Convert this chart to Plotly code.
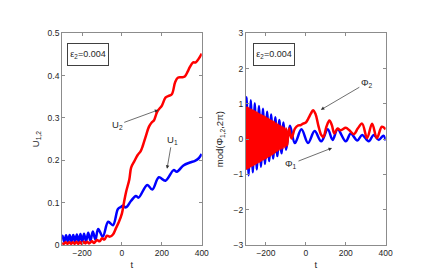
import plotly.graph_objects as go

# ---------- Left panel data: U1 (blue), U2 (red) ----------
u1_t = [-300, -298, -289, -280, -271, -262, -253, -244, -235, -226, -217, -208, -199, -190, -180,
        -169, -158, -146, -133, -119, -96, -69, -45, -20, -5, 4, 20, 45, 70, 83, 127, 152,
        185, 218, 259, 275, 308, 341, 366, 385, 400]
u1_v = [0.015, 0.022, 0.008, 0.023, 0.008, 0.024, 0.008, 0.024, 0.008, 0.025, 0.008, 0.026, 0.008, 0.027, 0.009,
        0.029, 0.010, 0.032, 0.013, 0.038, 0.020, 0.055, 0.047, 0.085, 0.090, 0.093, 0.089, 0.104, 0.116, 0.112, 0.142, 0.131,
        0.160, 0.152, 0.177, 0.173, 0.188, 0.195, 0.199, 0.205, 0.215]

u2_t = [-300, -291, -282, -273, -264, -255, -246, -237, -228, -219, -210, -201, -192, -183, -174, -165,
        -150, -140, -125, -112, -100, -88, -75, -60, -45, -30, -15, 0, 10, 21, 37, 46, 61, 78, 94,
        105, 119, 135, 150, 160, 177, 201, 218, 234, 250, 267, 280, 300, 315, 330, 340, 357, 370, 385, 400]
u2_v = [0.005, 0.003, 0.007, 0.003, 0.007, 0.003, 0.007, 0.003, 0.008, 0.003, 0.008, 0.003, 0.008, 0.004, 0.008, 0.004,
        0.009, 0.005, 0.012, 0.009, 0.016, 0.013, 0.022, 0.020, 0.025, 0.040, 0.055, 0.075, 0.100, 0.126, 0.155, 0.183, 0.197, 0.212, 0.222,
        0.235, 0.256, 0.279, 0.290, 0.294, 0.315, 0.330, 0.348, 0.352, 0.356, 0.385, 0.395, 0.396, 0.398, 0.410, 0.420, 0.431, 0.431, 0.440, 0.452]

# ---------- Right panel data: Phi1 (blue), Phi2 (red) ----------
p1_t = [-300, -297, -287, -276, -266, -256, -246, -235, -225, -215, -205, -194, -184, -174, -164, -153, -143,
        -133, -122, -112, -99, -80, -55, -22, 11, 44, 77, 110, 134, 159, 200, 225, 258, 282, 315, 340, 365, 389, 400]
p1_v = [0.9, 1.19, -1.02, 1.10, -0.94, 1.02, -0.86, 0.94, -0.78, 0.86, -0.70, 0.78, -0.62, 0.70, -0.55, 0.62, -0.48,
        0.54, -0.40, 0.47, -0.30, 0.38, -0.11, 0.28, -0.11, 0.23, -0.06, 0.28, -0.02, 0.28, -0.06, 0.16, -0.04, 0.12, -0.06, 0.12, -0.02, 0.10, -0.04]

p2_t = [-300, -296.5, -293, -289.5, -286, -282.5, -279, -275.5, -272, -268.5, -265, -261.5, -258, -254.5,
        -251, -247.5, -244, -240.5, -237, -233.5, -230, -226.5, -223, -219.5, -216, -212.5, -209, -205.5,
        -202, -198.5, -195, -191.5, -188, -184.5, -181, -177, -173, -169, -165, -161, -157, -152.5, -148,
        -143.5, -139, -134.5, -130, -125, -120, -115, -110, -104.5, -99, -94, -84, -72, -55, -38, -25, -14,
        0, 11, 25, 36, 48, 62, 77, 88, 103, 118, 130, 143, 159, 175, 200, 218, 241, 260, 282, 307, 332, 356, 381, 400]
p2_v = [0.92, -0.84, 0.90, -0.82, 0.88, -0.80, 0.85, -0.77, 0.83, -0.75, 0.81, -0.73, 0.79, -0.71,
        0.77, -0.68, 0.75, -0.66, 0.72, -0.64, 0.70, -0.62, 0.68, -0.59, 0.66, -0.57, 0.64, -0.55,
        0.62, -0.53, 0.59, -0.50, 0.57, -0.48, 0.55, -0.46, 0.52, -0.43, 0.50, -0.40, 0.48, -0.37, 0.45,
        -0.34, 0.42, -0.31, 0.39, -0.28, 0.36, -0.25, 0.33, -0.22, 0.30, -0.18, 0.30, 0.02, 0.30, 0.39, 0.40, 0.44,
        0.47, 0.57, 0.72, 0.82, 0.72, 0.40, 0.12, 0.06, 0.35, 0.53, 0.40, 0.16, 0.30, 0.25, 0.32, 0.25, 0.14, 0.30, 0.44, 0.03, 0.44, 0.03, 0.35, 0.28]

x_ticks = [-200, 0, 200, 400]
left_y_ticks = [0, 0.1, 0.2, 0.3, 0.4, 0.5]
left_y_labels = ["0", "0.1", "0.2", "0.3", "0.4", "0.5"]
right_y_ticks = [-3, -2, -1, 0, 1, 2, 3]

FONT = "Liberation Sans, Arial, sans-serif"
TXT = "#262626"
AX = "#8c8c8c"

fig = go.Figure()
fig.add_trace(go.Scatter(x=u1_t, y=u1_v, mode="lines", line=dict(color="#0000ff", width=2.5, shape="spline"),
                         xaxis="x", yaxis="y", showlegend=False))
fig.add_trace(go.Scatter(x=u2_t, y=u2_v, mode="lines", line=dict(color="#ff0000", width=2.5, shape="spline"),
                         xaxis="x", yaxis="y", showlegend=False))
fig.add_trace(go.Scatter(x=p1_t, y=p1_v, mode="lines", line=dict(color="#0000ff", width=2.5, shape="spline"),
                         xaxis="x2", yaxis="y2", showlegend=False))
fig.add_trace(go.Scatter(x=p2_t, y=p2_v, mode="lines", line=dict(color="#ff0000", width=2.5, shape="spline"),
                         xaxis="x2", yaxis="y2", showlegend=False))

W, H = 424, 271
ydom = [1 - 241 / H, 1 - 21 / H]
axcommon = dict(showgrid=False, zeroline=False, showline=True, linecolor=AX, linewidth=1,
                mirror="ticks", ticks="inside", ticklen=3, tickcolor=AX,
                tickfont=dict(family=FONT, size=8.5, color=TXT))

fig.update_layout(
    width=W, height=H,
    margin=dict(l=0, r=0, t=0, b=0),
    paper_bgcolor="white", plot_bgcolor="white",
    font=dict(family=FONT, size=8.5, color=TXT),
    xaxis=dict(domain=[55 / W, 197 / W], range=[-300, 400], tickvals=x_ticks, anchor="y",
               title=dict(text="t", standoff=4, font=dict(family=FONT, size=9.5, color=TXT)), **axcommon),
    yaxis=dict(domain=ydom, range=[0, 0.5], tickvals=left_y_ticks, ticktext=left_y_labels, anchor="x",
               title=dict(text="U<sub>1,2</sub>", standoff=6, font=dict(family=FONT, size=9.5, color=TXT)), **axcommon),
    xaxis2=dict(domain=[242 / W, 384 / W], range=[-300, 400], tickvals=x_ticks, anchor="y2",
                title=dict(text="t", standoff=4, font=dict(family=FONT, size=9.5, color=TXT)), **axcommon),
    yaxis2=dict(domain=ydom, range=[-3, 3], tickvals=right_y_ticks, anchor="x2",
                title=dict(text="mod(Φ<sub>1,2</sub>,2π)", standoff=8, font=dict(family=FONT, size=9.5, color=TXT)), **axcommon),
)

box = dict(showarrow=False, bordercolor="#404040", borderwidth=1, borderpad=2, bgcolor="white",
           font=dict(family=FONT, size=9, color=TXT), xanchor="left", yanchor="top",
           xref="paper", yref="paper", width=36, height=17)
fig.add_annotation(text="ε<sub>2</sub>=0.004", x=60 / W, y=1 - 31 / H, **box)
fig.add_annotation(text="ε<sub>2</sub>=0.004", x=249 / W, y=1 - 31 / H, **box)

arr = dict(showarrow=True, arrowhead=2, arrowsize=1, arrowwidth=0.7, arrowcolor="#303030",
           font=dict(family=FONT, size=9.5, color=TXT))
fig.add_annotation(text="U<sub>2</sub>", x=182, y=0.319, xref="x", yref="y", ax=-41, ay=15, **arr)
fig.add_annotation(text="U<sub>1</sub>", x=226, y=0.18, xref="x", yref="y", ax=5, ay=-29, **arr)
fig.add_annotation(text="Φ<sub>2</sub>", x=75, y=0.83, xref="x2", yref="y2", ax=46, ay=-27, **arr)
fig.add_annotation(text="Φ<sub>1</sub>", x=131, y=-0.25, xref="x2", yref="y2", ax=-41, ay=16, **arr)

fig.write_html("out.html")
